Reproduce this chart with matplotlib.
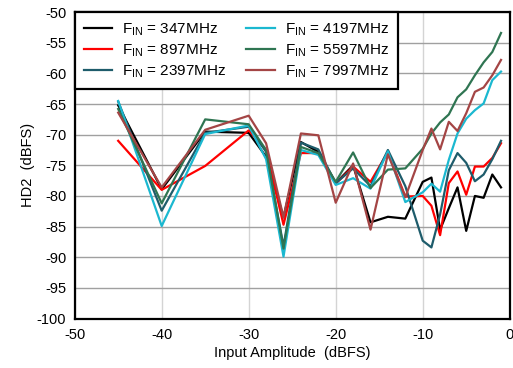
import matplotlib
matplotlib.use("Agg")
import matplotlib.pyplot as plt

plt.rcParams['font.family'] = ['Liberation Sans', 'DejaVu Sans']
plt.rcParams['axes.unicode_minus'] = False

x = [-45, -40, -35, -30, -28, -26, -24, -22, -20, -18, -16, -14, -12,
     -10, -9, -8, -7, -6, -5, -4, -3, -2, -1]

f347 = [-65.2, -78.9, -69.5, -69.7, -73.6, -83.5, -71.2, -72.8, -77.9, -75.0, -84.3, -83.4, -83.7,
        -77.7, -77.0, -85.5, -82.0, -78.6, -85.7, -80.0, -80.3, -76.5, -78.6]
f897 = [-71.0, -79.0, -75.1, -69.3, -72.5, -84.7, -73.0, -73.0, -78.0, -75.2, -77.7, -72.8, -80.1,
        -80.0, -81.6, -86.4, -77.9, -76.0, -79.8, -75.2, -75.2, -73.8, -71.4]
f2397 = [-64.6, -82.4, -69.7, -68.7, -72.8, -88.2, -71.3, -72.4, -77.9, -75.5, -78.4, -72.5, -78.4,
         -87.3, -88.4, -83.0, -75.8, -73.0, -74.6, -77.6, -76.5, -74.0, -71.0]
f4197 = [-64.5, -84.9, -69.9, -68.5, -74.0, -89.9, -72.5, -73.3, -78.2, -77.1, -78.8, -72.7, -81.0,
         -79.4, -78.0, -79.3, -74.1, -69.8, -67.4, -66.0, -64.9, -61.1, -59.7]
f5597 = [-65.8, -81.2, -67.5, -68.3, -72.5, -88.6, -72.0, -73.0, -77.7, -72.9, -78.7, -75.7, -75.5,
         -72.3, -69.8, -68.0, -66.7, -63.9, -62.6, -60.3, -58.2, -56.5, -53.4]
f7997 = [-66.4, -78.6, -69.2, -66.9, -71.4, -83.5, -69.8, -70.1, -81.1, -74.7, -85.5, -73.2, -80.2,
         -72.5, -69.0, -72.4, -67.9, -69.4, -66.5, -63.0, -62.3, -60.3, -57.8]

series = [f347, f897, f2397, f4197, f5597, f7997]
labels = [r'F$_{\mathregular{IN}}$ = 347MHz', r'F$_{\mathregular{IN}}$ = 897MHz',
          r'F$_{\mathregular{IN}}$ = 2397MHz', r'F$_{\mathregular{IN}}$ = 4197MHz',
          r'F$_{\mathregular{IN}}$ = 5597MHz', r'F$_{\mathregular{IN}}$ = 7997MHz']
colors = ['#000000', '#ff0000', '#1e5c6b', '#1bb8d0', '#2f7552', '#a44545']

xticks = [-50, -40, -30, -20, -10, 0]
yticks = list(range(-100, -49, 5))

fig = plt.figure(figsize=(5.13, 3.68), dpi=100)
ax = fig.add_axes([0.1456, 0.1345, 0.848, 0.8325])

for ys, lab, c in zip(series, labels, colors):
    ax.plot(x, ys, color=c, lw=1.6, label=lab)

ax.set_xlim(-50, 0)
ax.set_ylim(-100, -50)
ax.set_xticks(xticks)
ax.set_yticks(yticks)
ax.tick_params(length=0, labelsize=10.5)
ax.tick_params(axis='x', pad=7)
ax.tick_params(axis='y', pad=6)
ax.yaxis.grid(True, color='#a0a0a0', lw=1.0)
ax.xaxis.grid(True, color='#d4d4d4', lw=1.0)
ax.set_axisbelow(True)
for s in ax.spines.values():
    s.set_linewidth(1.6)
    s.set_color('black')

ax.set_xlabel('Input Amplitude  (dBFS)', fontsize=10.5, labelpad=3)
ax.set_ylabel('HD2  (dBFS)', fontsize=10.5, labelpad=1)

leg = ax.legend(loc='upper left', bbox_to_anchor=(0, 1), borderaxespad=0,
                ncol=2, fontsize=11, fancybox=False, framealpha=1,
                handlelength=1.85, columnspacing=1.3, labelspacing=0.28,
                handletextpad=0.65, borderpad=0.6)
leg.get_frame().set_edgecolor('black')
leg.get_frame().set_linewidth(1.6)

fig.savefig('out.png', dpi=100)
